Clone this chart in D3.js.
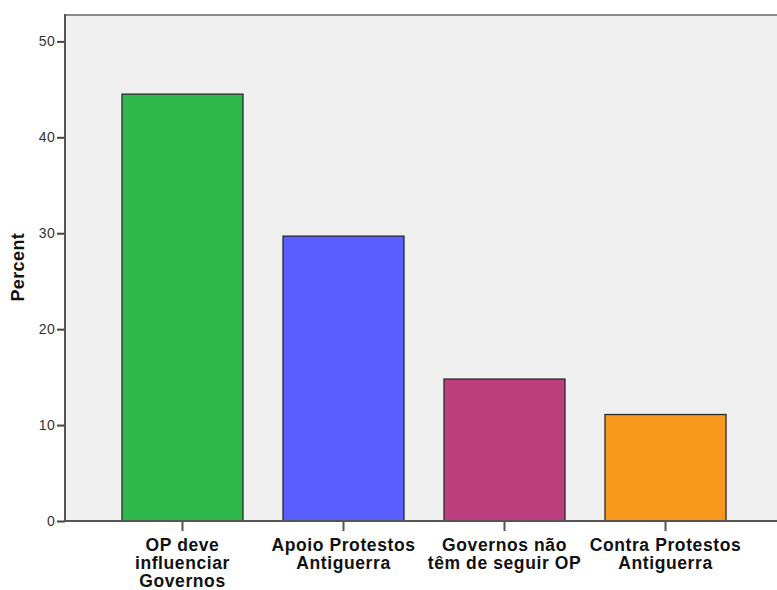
<!DOCTYPE html>
<html>
<head>
<meta charset="utf-8">
<script src="https://cdn.jsdelivr.net/npm/d3@7"></script>
<style>
  html, body { margin: 0; padding: 0; background: #ffffff; }
  svg { display: block; }
</style>
</head>
<body>
<svg id="chart" width="777" height="590"></svg>
<script>
const categories = [
  ["OP deve", "influenciar", "Governos"],
  ["Apoio Protestos", "Antiguerra"],
  ["Governos não", "têm de seguir OP"],
  ["Contra Protestos", "Antiguerra"]
];
const values = [44.5, 29.7, 14.8, 11.1];
const colors = ["#2eb84c", "#5a5eff", "#bc3e7c", "#f8991d"];
const yTicks = [0, 10, 20, 30, 40, 50];
const yTitle = "Percent";

const svg = d3.select("#chart");
const pLeft = 65, pRight = 777, pTop = 15, pBottom = 521;

const keys = categories.map((c, i) => i);
const x = d3.scaleBand().domain(keys).range([pLeft, 783])
  .paddingInner(0.2484).paddingOuter(0.354);
const y = d3.scaleLinear().domain([0, 52.75]).range([pBottom, pTop]);

// plot background
svg.append("rect").attr("x", pLeft).attr("y", pTop)
  .attr("width", pRight - pLeft).attr("height", pBottom - pTop)
  .attr("fill", "#efefef");
// top border
svg.append("line").attr("x1", pLeft).attr("x2", pRight).attr("y1", pTop).attr("y2", pTop)
  .attr("stroke", "#8a8a8a").attr("stroke-width", 2);

// bars
svg.selectAll("rect.bar").data(values).enter().append("rect")
  .attr("class", "bar")
  .attr("x", (d, i) => x(i))
  .attr("y", d => y(d))
  .attr("width", x.bandwidth())
  .attr("height", d => pBottom - y(d))
  .attr("fill", (d, i) => colors[i])
  .attr("stroke", "#2a2a2a").attr("stroke-width", 1.3);

// y axis
const yAxis = d3.axisLeft(y).tickValues(yTicks).tickSize(8).tickPadding(2);
const gy = svg.append("g").attr("transform", `translate(${pLeft},0)`).call(yAxis);
gy.select(".domain").remove();
gy.selectAll(".tick line").attr("stroke", "#444").attr("stroke-width", 2);
gy.selectAll(".tick text").attr("fill", "#333")
  .style("font-family", "Liberation Sans, Arial, sans-serif").style("font-size", "14px")
  .style("letter-spacing", "0.3px");
svg.append("line").attr("x1", pLeft).attr("x2", pLeft).attr("y1", pTop - 1).attr("y2", pBottom + 1)
  .attr("stroke", "#555").attr("stroke-width", 2);

// x axis
const xAxis = d3.axisBottom(x).tickSize(10).tickFormat("");
const gx = svg.append("g").attr("transform", `translate(0,${pBottom})`).call(xAxis);
gx.select(".domain").remove();
gx.selectAll(".tick line").attr("stroke", "#555").attr("stroke-width", 2);
svg.append("line").attr("x1", pLeft).attr("x2", pRight).attr("y1", pBottom).attr("y2", pBottom)
  .attr("stroke", "#555").attr("stroke-width", 2);

// x tick labels
categories.forEach((lines, i) => {
  const cx = x(i) + x.bandwidth() / 2;
  const t = svg.append("text")
    .attr("x", cx)
    .attr("y", 551)
    .attr("text-anchor", "middle")
    .attr("fill", "#111")
    .style("font-family", "Liberation Sans, Arial, sans-serif")
    .style("font-weight", "bold")
    .style("font-size", "17.5px")
    .style("letter-spacing", "0.6px");
  lines.forEach((ln, j) => {
    t.append("tspan").attr("x", cx).attr("dy", j === 0 ? 0 : 18).text(ln);
  });
});

// y title
svg.append("text")
  .attr("transform", `translate(24,${(y(0) + y(50)) / 2 - 14}) rotate(-90)`)
  .attr("text-anchor", "middle")
  .attr("fill", "#111")
  .style("font-family", "Liberation Sans, Arial, sans-serif")
  .style("font-weight", "bold")
  .style("font-size", "18px")
  .style("letter-spacing", "0.4px")
  .text(yTitle);
</script>
</body>
</html>
